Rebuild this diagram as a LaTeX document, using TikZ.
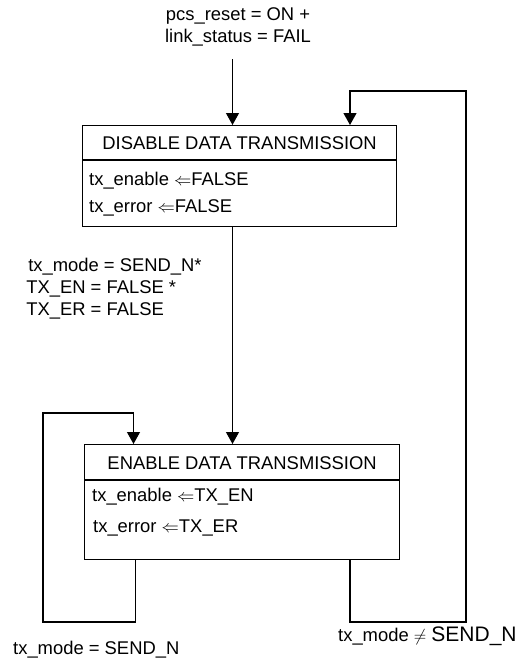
\documentclass[tikz,border=0pt]{standalone}
\usepackage{fontspec}
\setmainfont{Liberation Sans}
\usetikzlibrary{arrows.meta,positioning,calc}
\newcommand{\getsarrow}{{\fontsize{16}{16}\selectfont$\Leftarrow$}}

\begin{document}
\begin{tikzpicture}[x=1pt,y=-1pt,>={Triangle[width=13pt,length=12pt]},
  font=\fontsize{18.4}{22}\selectfont,
  state/.style={draw,line width=1.2pt,anchor=north west,inner sep=0pt,minimum width=314pt},
  act/.style={anchor=west,inner sep=0pt},
  cond/.style={align=left,inner sep=0pt},
  wire/.style={line width=1.2pt}]
\useasboundingbox (0,0) rectangle (520,667);
% states
\node[state,minimum height=101pt] (dis) at (82,125) {};
\draw[wire] ($(dis.north west)+(0,35)$) -- ($(dis.north east)+(0,35)$);
\node (disT) at ($(dis.north)+(0,18)$) {DISABLE DATA TRANSMISSION};
\node[act] (disA) at (89,181) {tx\_enable \getsarrow FALSE};
\node[act] (disB) at (89,208) {tx\_error \getsarrow FALSE};
\node[state,minimum height=115pt,minimum width=315pt] (ena) at (84,444) {};
\draw[wire] ($(ena.north west)+(0,36)$) -- ($(ena.north east)+(0,36)$);
\node (enaT) at ($(ena.north)+(0,19)$) {ENABLE DATA TRANSMISSION};
\node[act] (enaA) at (92,497) {tx\_enable \getsarrow TX\_EN};
\node[act] (enaB) at (93,528) {tx\_error \getsarrow TX\_ER};
% conditions
\node[cond,align=center] (rst) at (238,27) {pcs\_reset = ON +\\link\_status = FAIL};
\node[cond] (c1) at (114,289) {\hspace*{2pt}tx\_mode = SEND\_N*\\TX\_EN = FALSE *\\TX\_ER = FALSE};
\node[cond,anchor=west] (c2) at (13,650) {tx\_mode = SEND\_N};
\node[cond,anchor=west] (c3) at (338,636) {tx\_mode {\fontsize{16}{16}\selectfont$\neq$} {\fontsize{21}{21}\selectfont SEND\_N}};
% transitions
\coordinate (in) at (232.5,59);
\draw[wire,->] (in) -- (in |- dis.north);
\draw[wire,->] (in |- dis.south) -- (in |- ena.north);
\coordinate (loopR) at (466,622);
\draw[wire,->] (350,0 |- ena.south) |- (loopR) |- (350,91) -- (350,0 |- dis.north);
\coordinate (loopL) at (43,622);
\draw[wire,->] (135.5,0 |- ena.south) |- (loopL) |- (133.5,413) -- (133.5,0 |- ena.north);
\end{tikzpicture}
\end{document}
